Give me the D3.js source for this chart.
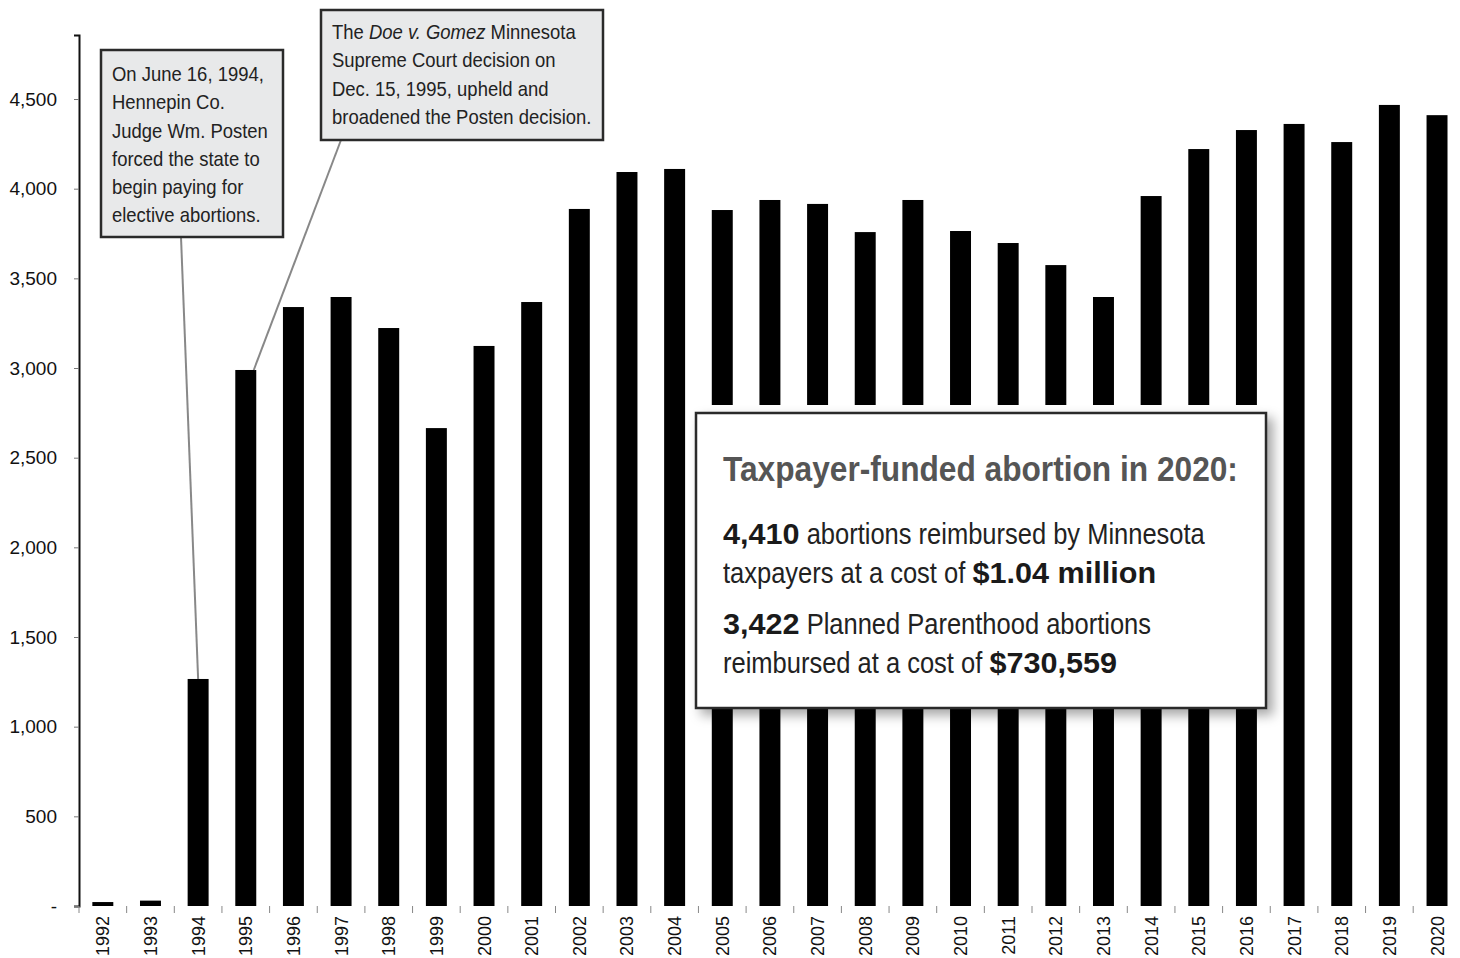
<!DOCTYPE html>
<html>
<head>
<meta charset="utf-8">
<script src="https://cdn.jsdelivr.net/npm/d3@7"></script>
<style>
  body { margin: 0; background: #fff; }
  svg { display: block; }
  .axis text { font-family: "Liberation Sans", Arial, sans-serif; fill: #111; }
  .note { font-family: "Liberation Sans", Arial, sans-serif; white-space: pre; }
</style>
</head>
<body>
<svg id="chart"></svg>
<script>
//chart data
const years = ["1992","1993","1994","1995","1996","1997","1998","1999","2000","2001","2002","2003","2004","2005","2006","2007","2008","2009","2010","2011","2012","2013","2014","2015","2016","2017","2018","2019","2020"];
const abortions = [22, 30, 1266, 2989, 3340, 3396, 3223, 2665, 3123, 3368, 3887, 4093, 4110, 3881, 3937, 3915, 3758, 3937, 3764, 3697, 3574, 3396, 3959, 4221, 4327, 4361, 4260, 4467, 4410];
const yTicks = [0, 500, 1000, 1500, 2000, 2500, 3000, 3500, 4000, 4500];

const note1 = ["On June 16, 1994,", "Hennepin Co.", "Judge Wm. Posten", "forced the state to", "begin paying for", "elective abortions."];
const note2 = [["The ", ["Doe v. Gomez", "italic"], " Minnesota"], ["Supreme Court decision on"], ["Dec. 15, 1995, upheld and"], ["broadened the Posten decision."]];
const boxTitle = "Taxpayer-funded abortion in 2020:";
const boxLines = [
  [["4,410", "bold"], " abortions reimbursed by Minnesota"],
  ["taxpayers at a cost of ", ["$1.04 million", "bold"]],
  [["3,422", "bold"], " Planned Parenthood abortions"],
  ["reimbursed at a cost of ", ["$730,559", "bold"]]
];

const width = 1460, height = 958;
const svg = d3.select("#chart").attr("width", width).attr("height", height);

//squeeze text horizontally to mimic a condensed face
function condense(sel, x0, sx) {
    sel.attr("transform", `translate(${x0},0) scale(${sx},1) translate(${-x0},0)`);
}

//draw a line made of plain / styled runs, each run with its own squeeze
function richLine(x0, y0, parts, size, plainSx, styledSx) {
    let cx = x0;
    parts.forEach(part => {
        const styled = Array.isArray(part);
        const t = svg.append("text").attr("class", "note")
            .attr("x", cx).attr("y", y0).attr("font-size", size)
            .attr("xml:space", "preserve")
            .style("fill", styled && part[1] === "bold" ? "#1a1a1a" : "#222")
            .text(styled ? part[0] : part);
        if (styled && part[1] === "bold") t.attr("font-weight", "bold");
        if (styled && part[1] === "italic") t.attr("font-style", "italic");
        const sx = styled && part[1] === "bold" ? styledSx : plainSx;
        const w = t.node().getComputedTextLength();
        condense(t, cx, sx);
        cx += w * sx;
    });
}

const defs = svg.append("defs");
const sh = defs.append("filter").attr("id", "shadow")
    .attr("x", "-10%").attr("y", "-10%").attr("width", "130%").attr("height", "130%");
sh.append("feDropShadow").attr("dx", 6).attr("dy", 6).attr("stdDeviation", 6)
    .attr("flood-color", "#000").attr("flood-opacity", 0.35);
const ash = defs.append("filter").attr("id", "axshadow")
    .attr("x", "-5%").attr("y", "-500%").attr("width", "110%").attr("height", "1100%");
ash.append("feDropShadow").attr("dx", 0).attr("dy", 4).attr("stdDeviation", 4)
    .attr("flood-color", "#000").attr("flood-opacity", 0.35);

//scales
const x = d3.scaleBand().domain(years).range([79, 79 + 29 * 47.65]).padding(0);
const y = d3.scaleLinear().domain([0, 4857]).range([906, 35]);
const barW = x.bandwidth() * 0.44;

//y axis
const yAxis = svg.append("g").attr("class", "axis")
    .attr("transform", "translate(79,0)")
    .call(d3.axisLeft(y).tickValues(yTicks).tickSize(5).tickPadding(17)
        .tickFormat(d => d === 0 ? "-" : d3.format(",")(d)));
yAxis.selectAll("text").attr("font-size", 19).attr("font-family", null);
yAxis.select(".domain").attr("stroke", "#111").attr("stroke-width", 2);
yAxis.selectAll(".tick line").attr("stroke", "#777");

//bars
svg.append("g").selectAll("rect")
    .data(years.map((yr, i) => ({ yr, v: abortions[i] })))
    .join("rect")
    .attr("x", d => x(d.yr) + (x.bandwidth() - barW) / 2)
    .attr("y", d => y(d.v))
    .attr("width", barW)
    .attr("height", d => y(0) - y(d.v))
    .attr("fill", "#000");

//x axis
const xAxis = svg.append("g").attr("class", "axis")
    .attr("transform", `translate(0,${y(0)})`);
xAxis.append("line")
    .attr("x1", 74).attr("x2", 1456).attr("y1", 0).attr("y2", 0)
    .attr("stroke", "#222").attr("stroke-width", 2).attr("filter", "url(#axshadow)");
xAxis.selectAll(".xt").data(years).join("line").attr("class", "xt")
    .attr("x1", d => x(d)).attr("x2", d => x(d)).attr("y1", 0).attr("y2", 7)
    .attr("stroke", "#888");
xAxis.selectAll(".xl").data(years).join("text").attr("class", "xl")
    .attr("font-size", 18)
    .attr("transform", d => `translate(${x(d) + x.bandwidth() / 2 + 6.5},10) rotate(-90)`)
    .attr("text-anchor", "end")
    .text(d => d);

//annotation 1
svg.append("line")
    .attr("x1", 181).attr("y1", 237).attr("x2", x("1994") + x.bandwidth() / 2).attr("y2", y(abortions[2]))
    .attr("stroke", "#888").attr("stroke-width", 2);
svg.append("rect").attr("x", 101).attr("y", 50).attr("width", 182).attr("height", 187)
    .attr("fill", "#e8e9ea").attr("stroke", "#2a2a2a").attr("stroke-width", 2.5);
const t1 = svg.append("text").attr("class", "note").attr("font-size", 20.5).style("fill", "#222");
t1.selectAll("tspan").data(note1).join("tspan")
    .attr("x", 112).attr("y", (d, i) => 81 + i * 28.3)
    .text(d => d);
condense(t1, 112, 0.9);

//annotation 2
svg.append("line")
    .attr("x1", 341).attr("y1", 140).attr("x2", x("1995") + x.bandwidth() / 2 + 8).attr("y2", y(abortions[3]))
    .attr("stroke", "#888").attr("stroke-width", 2);
svg.append("rect").attr("x", 321).attr("y", 10).attr("width", 282).attr("height", 130)
    .attr("fill", "#e8e9ea").attr("stroke", "#2a2a2a").attr("stroke-width", 2.5);
note2.forEach((line, i) => richLine(332, 39 + i * 28.3, line, 20.5, 0.9, 0.9));

//summary box with its halo
svg.append("path")
    .attr("d", "M686,405 H1283 V733 H1266 V708 H696 V733 H686 Z")
    .attr("fill", "#fff");
svg.append("rect").attr("x", 696).attr("y", 413).attr("width", 570).attr("height", 295)
    .attr("fill", "#fff").attr("stroke", "#2a2a2a").attr("stroke-width", 2.5)
    .attr("filter", "url(#shadow)");
const title = svg.append("text").attr("class", "note")
    .attr("x", 723).attr("y", 481)
    .attr("font-size", 36).attr("font-weight", "bold").style("fill", "#555")
    .text(boxTitle);
condense(title, 723, 0.88);
boxLines.forEach((line, i) => richLine(723, [544, 583, 634, 673][i], line, 30, 0.85, 1.02));
</script>
</body>
</html>
